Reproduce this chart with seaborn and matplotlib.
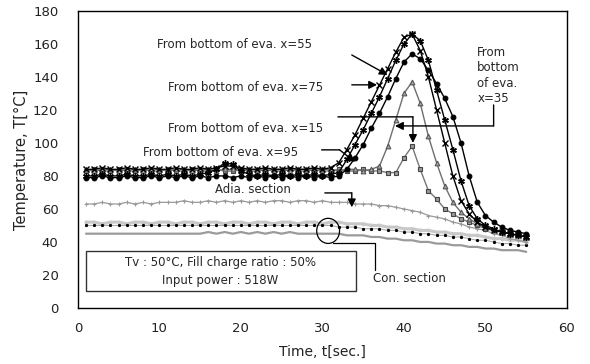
import matplotlib
matplotlib.use("Agg")
import matplotlib.pyplot as plt
import seaborn as sns
import numpy as np
import pandas as pd
from matplotlib.patches import Ellipse, Rectangle

time_s = list(range(1, 56))

evap_x55 = [84, 84, 85, 84, 84, 85, 84, 84, 85, 84, 84, 85, 84, 84, 85, 84, 85, 86, 86, 85,
            84, 84, 85, 84, 84, 85, 84, 84, 85, 84, 85,
            88, 96, 105, 115, 125, 135, 145, 155, 164, 166, 156, 140, 120, 100, 80, 65, 57, 52,
            49, 47, 46, 45, 44, 43]
evap_x75 = [80, 80, 81, 80, 80, 81, 80, 80, 81, 80, 81, 80, 81, 80, 81, 82, 84, 88, 87, 83,
            81, 80, 81, 80, 81, 80, 81, 80, 81, 80, 81,
            82, 90, 99, 108, 118, 128, 139, 150, 160, 166, 162, 150, 132, 114, 96, 77, 62, 54,
            50, 48, 46, 45, 44, 43]
evap_x95 = [79, 79, 80, 79, 79, 80, 79, 79, 80, 79, 80, 79, 80, 79, 80, 79, 80, 80, 79, 80,
            79, 80, 79, 80, 79, 80, 79, 80, 79, 80, 79,
            80, 84, 91, 99, 109, 118, 128, 139, 149, 154, 151, 144, 136, 127, 116, 100, 80, 64,
            56, 52, 49, 47, 46, 45]
evap_x35 = [84, 83, 84, 84, 83, 84, 84, 83, 84, 84, 83, 84, 84, 83, 84, 84, 83, 84, 84, 83,
            84, 84, 83, 84, 84, 83, 84, 84, 83, 84, 84, 83, 84, 84, 83, 84,
            86, 98, 114, 130, 137, 124, 104, 88, 74, 64, 58, 54, 51, 49, 47, 46, 45, 44, 43]
evap_x15 = [83, 84, 83, 83, 84, 83, 83, 84, 83, 83, 84, 83, 83, 84, 83, 83, 84, 83, 83, 84,
            83, 83, 84, 83, 83, 84, 83, 83, 84, 83, 83, 84, 83, 83, 84, 83, 83, 82, 82,
            91, 98, 84, 71, 66, 60, 57, 54, 52, 50, 48, 47, 46, 45, 44, 43]
adia = [63, 63, 64, 63, 63, 64, 63, 64, 63, 64, 64, 64, 65, 64, 64, 65, 64, 65, 64, 65,
        64, 65, 64, 65, 65, 64, 65, 65, 64, 65, 64, 64, 64, 63, 63, 63, 62, 62, 61, 60,
        59, 58, 56, 55, 54, 52, 51, 49, 48, 47, 45, 44, 42, 41, 40]
con_a = [52, 52, 51, 52, 52, 51, 52, 52, 51, 52, 52, 51, 52, 52, 51, 52, 52, 51, 52, 52,
         51, 52, 52, 51, 52, 52, 51, 52, 52, 51, 52, 52, 51, 51, 51, 50, 50, 49, 49, 48,
         48, 47, 47, 46, 46, 45, 45, 44, 44, 43, 42, 42, 41, 41, 40]
con_b = [50, 50, 50, 50, 50, 50, 50, 50, 50, 50, 50, 50, 50, 50, 50, 50, 50, 50, 50, 50,
         50, 50, 50, 50, 50, 50, 50, 50, 50, 50, 50, 49, 49, 49, 48, 48, 48, 47, 47, 46,
         46, 45, 45, 44, 44, 43, 43, 42, 41, 41, 40, 39, 39, 38, 38]
con_c = [45, 45, 45, 45, 45, 45, 45, 45, 45, 45, 45, 45, 45, 45, 45, 46, 45, 46, 45, 46,
         45, 46, 45, 46, 45, 46, 45, 45, 45, 45, 45, 45, 44, 44, 44, 43, 43, 42, 42, 41,
         41, 40, 40, 39, 39, 38, 38, 37, 37, 36, 36, 35, 35, 35, 34]

x_ticks = [0, 10, 20, 30, 40, 50, 60]
y_ticks = [0, 20, 40, 60, 80, 100, 120, 140, 160, 180]

sns.set_theme(style="white")
plt.rcParams['font.family'] = ['DejaVu Sans']

fig = plt.figure(figsize=(5.9, 3.64), dpi=100)
ax = fig.add_axes([0.132, 0.154, 0.829, 0.816])

def draw(y, color, marker, ms, lw=1.0, mec=None, mfc=None, ls='-', mew=0.8):
    sns.lineplot(x=time_s, y=y, ax=ax, color=color, marker=marker, markersize=ms,
                 linewidth=lw, linestyle=ls, markeredgecolor=mec if mec else color,
                 markerfacecolor=mfc if mfc else color, markeredgewidth=mew,
                 legend=False, estimator=None)

draw(con_a, '#c8c8c8', 'o', 2.0, lw=2.2)
draw(con_c, '#9a9a9a', None, 0, lw=1.6)
draw(con_b, '#ababab', '.', 3.0, lw=0.8, mec='black', mfc='black')
draw(adia, '#9a9a9a', '+', 3.0, lw=0.9)
draw(evap_x15, '#777777', 's', 3.4, lw=1.0, mec='#444444', mfc='#999999')
draw(evap_x35, '#6e6e6e', '^', 3.4, lw=1.0, mec='#555555', mfc='#aaaaaa')
draw(evap_x95, 'black', 'o', 3.4, lw=1.0)
draw(evap_x75, 'black', (6, 2, 0), 4.8, lw=1.0, mew=1.0)
draw(evap_x55, 'black', 'x', 3.8, lw=1.0, mew=1.0)

ax.set_xlim(0, 60)
ax.set_ylim(0, 180)
ax.set_xticks(x_ticks)
ax.set_yticks(y_ticks)
ax.tick_params(axis='both', length=0, labelsize=9.5, colors='#222222')
ax.tick_params(axis='y', pad=14)
ax.tick_params(axis='x', pad=10)
for s in ax.spines.values():
    s.set_color('black')
    s.set_linewidth(1.0)
ax.set_xlabel('Time, t[sec.]', fontsize=10, labelpad=7, color='#222222')
ax.set_ylabel('Temperature, T[°C]', fontsize=10.5, labelpad=3, color='#222222')

fs = 8.5
arrow = dict(arrowstyle='-|>', color='black', lw=1.0, mutation_scale=12, shrinkA=0, shrinkB=0)
line = dict(arrowstyle='-', color='black', lw=1.0, shrinkA=0, shrinkB=0)

ax.text(9.7, 159.4, 'From bottom of eva. x=55', fontsize=fs, va='center', ha='left')
ax.annotate('', xy=(38.0, 141.2), xytext=(33.6, 153.3), arrowprops=arrow)

ax.text(11.0, 133.3, 'From bottom of eva. x=75', fontsize=fs, va='center', ha='left')
ax.annotate('', xy=(36.7, 135.2), xytext=(33.6, 135.2), arrowprops=arrow)

ax.text(11.0, 109.0, 'From bottom of eva. x=15', fontsize=fs, va='center', ha='left')
ax.annotate('', xy=(41.1, 115.8), xytext=(31.9, 115.8), arrowprops=line)
ax.annotate('', xy=(41.1, 100.0), xytext=(41.1, 115.8), arrowprops=arrow)

ax.text(8.0, 94.0, 'From bottom of eva. x=95', fontsize=fs, va='center', ha='left')
ax.annotate('', xy=(32.1, 95.8), xytext=(29.9, 95.8), arrowprops=line)
ax.annotate('', xy=(34.0, 88.5), xytext=(32.1, 95.8), arrowprops=arrow)

ax.text(49.0, 159.0, 'From\nbottom\nof eva.\nx=35', fontsize=fs, va='top', ha='left',
        linespacing=1.25)
ax.annotate('', xy=(51.0, 110.3), xytext=(51.0, 123.0), arrowprops=line)
ax.annotate('', xy=(38.9, 110.3), xytext=(51.0, 110.3), arrowprops=arrow)

ax.text(16.8, 71.5, 'Adia. section', fontsize=fs, va='center', ha='left')
ax.annotate('', xy=(33.6, 69.7), xytext=(30.3, 69.7), arrowprops=line)
ax.annotate('', xy=(33.6, 61.0), xytext=(33.6, 69.7), arrowprops=arrow)

ax.add_patch(Ellipse((30.7, 46.7), 2.8, 15.2, fill=False, edgecolor='black', lw=0.9, zorder=5))
ax.plot([31.3, 36.4, 36.4], [39.4, 39.4, 23.0], color='black', lw=0.9)
ax.text(36.2, 17.6, 'Con. section', fontsize=fs, va='center', ha='left')

ax.add_patch(Rectangle((1.0, 10.3), 33.1, 24.2, fill=False, edgecolor='#333333', lw=1.0, zorder=5))
ax.text(17.5, 27.3, 'Tv : 50°C, Fill charge ratio : 50%', fontsize=fs, ha='center', va='center')
ax.text(17.5, 16.4, 'Input power : 518W', fontsize=fs, ha='center', va='center')

fig.savefig('out.png', dpi=100)
